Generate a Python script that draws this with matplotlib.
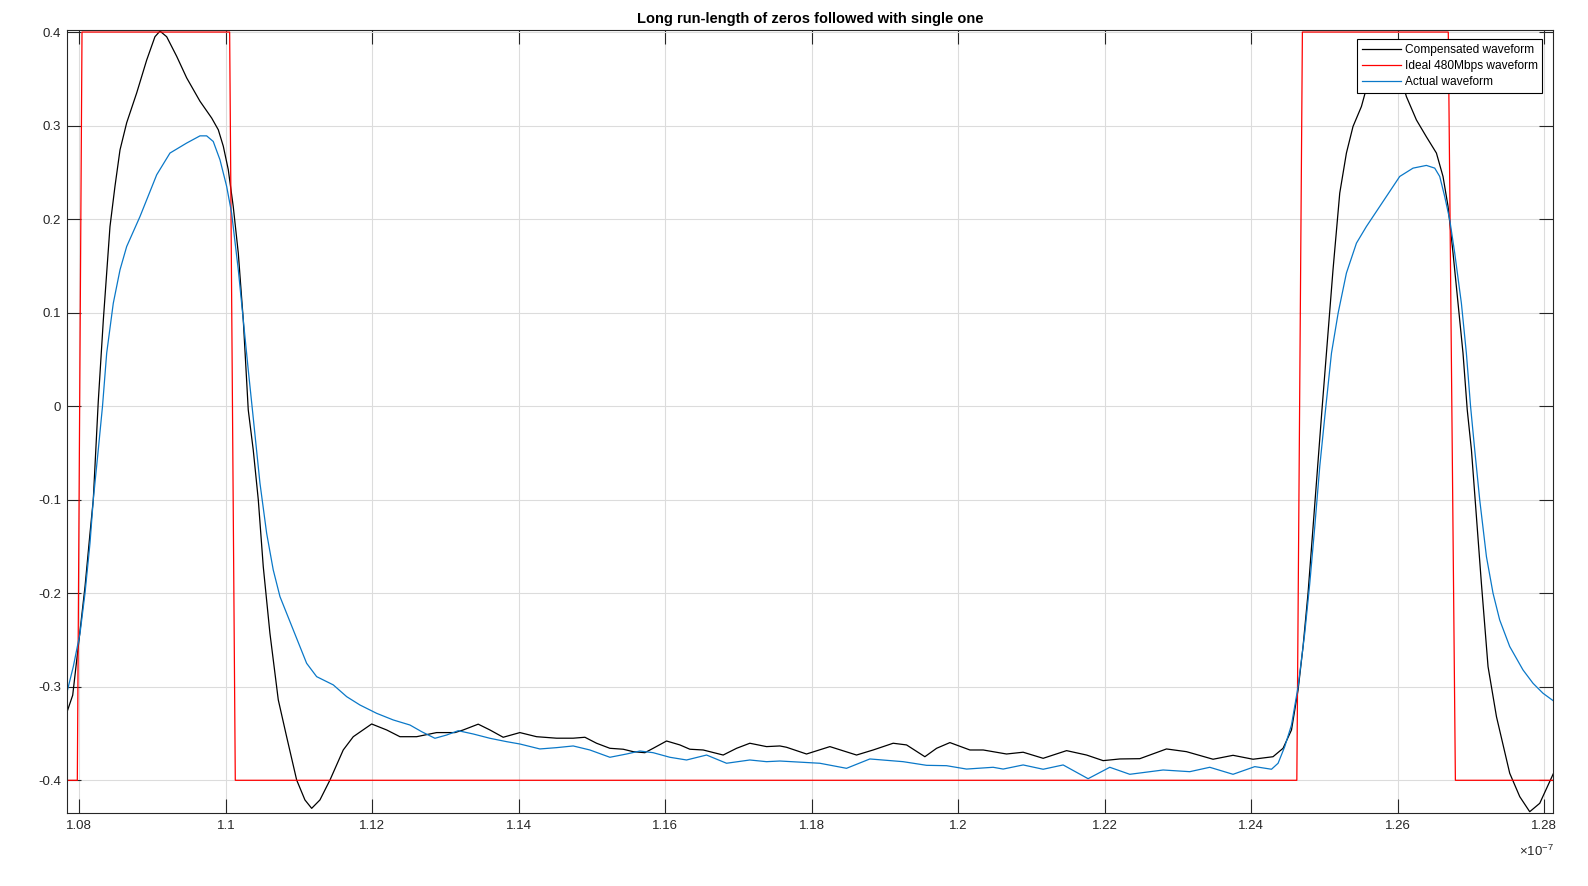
import matplotlib
matplotlib.use("Agg")
import matplotlib.pyplot as plt
from matplotlib.ticker import FixedLocator, FixedFormatter

plt.rcParams['font.family'] = ['Liberation Sans', 'DejaVu Sans']
plt.rcParams['mathtext.fontset'] = 'custom'
plt.rcParams['mathtext.rm'] = 'Liberation Sans'
plt.rcParams['mathtext.it'] = 'Liberation Sans'

SCALE = 1e-7  # time values below are in units of 1e-7 s

# ---------------- data ----------------
comp_t = [1.07828, 1.07910, 1.07986, 1.08078, 1.08146, 1.08191, 1.08259, 1.08328,
          1.08419, 1.08487, 1.08556, 1.08647, 1.08784, 1.08920, 1.09033, 1.09102,
          1.09193, 1.09330, 1.09466, 1.09648, 1.09808, 1.09898, 1.09966, 1.10034,
          1.10102, 1.10171, 1.10239, 1.10307, 1.10375, 1.10444, 1.10512, 1.10603,
          1.10717, 1.10831, 1.10968, 1.11081, 1.11173, 1.11286, 1.11423, 1.11604,
          1.11741, 1.11992, 1.12197, 1.12378, 1.12606, 1.12879, 1.13129, 1.13242,
          1.13447, 1.13607, 1.13788, 1.14016, 1.14244, 1.14517, 1.14744, 1.14904,
          1.15063, 1.15245, 1.15427, 1.15563, 1.15723, 1.15836, 1.16019, 1.16201,
          1.16337, 1.16519, 1.16792, 1.16975, 1.17156, 1.17384, 1.17566, 1.17657,
          1.17930, 1.18249, 1.18613, 1.18840, 1.19113, 1.19296, 1.19546, 1.19706,
          1.19888, 1.20161, 1.20343, 1.20661, 1.20888, 1.21161, 1.21481, 1.21754,
          1.21980, 1.22208, 1.22481, 1.22845, 1.23118, 1.23481, 1.23754, 1.24027,
          1.24300, 1.24437, 1.24552, 1.24642, 1.24710, 1.24778, 1.24847, 1.24915,
          1.24968, 1.25029, 1.25119, 1.25211, 1.25302, 1.25392, 1.25507, 1.25593,
          1.25702, 1.25825, 1.25934, 1.26030, 1.26121, 1.26258, 1.26394, 1.26531,
          1.26621, 1.26690, 1.26758, 1.26826, 1.26894, 1.26952, 1.27009, 1.27077,
          1.27145, 1.27236, 1.27351, 1.27532, 1.27669, 1.27805, 1.27942, 1.28127]
comp_v = [-0.328, -0.309, -0.257, -0.193, -0.136, -0.100, 0.005, 0.092,
          0.192, 0.235, 0.274, 0.303, 0.335, 0.370, 0.395, 0.401,
          0.395, 0.374, 0.351, 0.326, 0.308, 0.2955, 0.278, 0.253,
          0.2135, 0.1636, 0.0923, -0.004, -0.0467, -0.100, -0.1716, -0.2428,
          -0.314, -0.3534, -0.3997, -0.421, -0.430, -0.421, -0.3997, -0.3676,
          -0.3534, -0.3398, -0.3462, -0.3534, -0.3534, -0.349, -0.349, -0.3462,
          -0.340, -0.3462, -0.354, -0.349, -0.3534, -0.355, -0.355, -0.354,
          -0.3604, -0.3658, -0.3668, -0.3694, -0.3705, -0.3658, -0.358, -0.3622,
          -0.3668, -0.3676, -0.373, -0.3658, -0.3604, -0.364, -0.3633, -0.3647,
          -0.3719, -0.364, -0.373, -0.3676, -0.3604, -0.3622, -0.3748, -0.3658,
          -0.3597, -0.3676, -0.3676, -0.3719, -0.370, -0.3765, -0.3683, -0.373,
          -0.379, -0.3772, -0.3769, -0.3665, -0.3694, -0.3775, -0.3733, -0.3775,
          -0.3748, -0.3658, -0.3462, -0.3034, -0.257, -0.200, -0.1288, -0.0574,
          -0.004, 0.0567, 0.1458, 0.2278, 0.2706, 0.299, 0.3204, 0.345,
          0.368, 0.380, 0.376, 0.355, 0.331, 0.306, 0.288, 0.2706,
          0.2456, 0.2135, 0.1636, 0.110, 0.0567, -0.004, -0.0467, -0.118,
          -0.1893, -0.2785, -0.332, -0.3925, -0.4175, -0.4336, -0.4246, -0.393]

ideal_t = [1.07828, 1.07973, 1.08037, 1.10053, 1.10130, 1.24625, 1.24701, 1.26693, 1.26790, 1.28127]
ideal_v = [-0.4, -0.4, 0.4, 0.4, -0.4, -0.4, 0.4, 0.4, -0.4, -0.4]

act_t = [1.07828, 1.07918, 1.08010, 1.08078, 1.08146, 1.08191, 1.08259, 1.08317,
         1.08374, 1.08464, 1.08556, 1.08647, 1.08829, 1.09057, 1.09238, 1.09466,
         1.09648, 1.09739, 1.09829, 1.09921, 1.10012, 1.10080, 1.10171, 1.10239,
         1.10307, 1.10364, 1.10467, 1.10558, 1.10648, 1.10740, 1.10922, 1.11104,
         1.11241, 1.11468, 1.11651, 1.11832, 1.12060, 1.12287, 1.12515, 1.12674,
         1.12856, 1.13016, 1.13174, 1.13379, 1.13607, 1.13835, 1.14016, 1.14289,
         1.14517, 1.14744, 1.14972, 1.15245, 1.15473, 1.15655, 1.15836, 1.16064,
         1.16292, 1.16565, 1.16838, 1.17156, 1.17384, 1.17566, 1.18112, 1.18476,
         1.18795, 1.19249, 1.19569, 1.19842, 1.20115, 1.20478, 1.20615, 1.20888,
         1.21161, 1.21434, 1.21775, 1.22071, 1.22344, 1.22799, 1.23163, 1.23436,
         1.23754, 1.24051, 1.24279, 1.24369, 1.24460, 1.24552, 1.24642, 1.24733,
         1.24802, 1.24870, 1.24938, 1.25007, 1.25098, 1.25189, 1.25302, 1.25439,
         1.25575, 1.25757, 1.25893, 1.26030, 1.26212, 1.26394, 1.26508, 1.26576,
         1.26644, 1.26713, 1.26781, 1.26872, 1.26940, 1.26997, 1.27054, 1.27122,
         1.27214, 1.27304, 1.27395, 1.27532, 1.27713, 1.27850, 1.27987, 1.28127]
act_v = [-0.307, -0.2785, -0.2428, -0.200, -0.1465, -0.100, -0.0467, 0.000,
         0.0567, 0.110, 0.1458, 0.1707, 0.2028, 0.2474, 0.2706, 0.2813,
         0.289, 0.289, 0.283, 0.2634, 0.235, 0.2064, 0.1458, 0.0923,
         0.0388, -0.004, -0.0824, -0.1358, -0.175, -0.2036, -0.2393, -0.2749,
         -0.2892, -0.298, -0.3106, -0.3195, -0.3284, -0.3355, -0.3409, -0.348,
         -0.3551, -0.3516, -0.347, -0.3505, -0.3551, -0.3587, -0.3612, -0.3665,
         -0.3651, -0.3633, -0.3676, -0.3754, -0.3719, -0.3687, -0.3705, -0.3754,
         -0.3783, -0.373, -0.3818, -0.3783, -0.3801, -0.3794, -0.3818, -0.3872,
         -0.3772, -0.3801, -0.384, -0.3844, -0.388, -0.3861, -0.388, -0.3836,
         -0.3882, -0.3836, -0.3983, -0.3861, -0.3936, -0.389, -0.3908, -0.3861,
         -0.3936, -0.3854, -0.3882, -0.3818, -0.364, -0.3409, -0.300, -0.2428,
         -0.1893, -0.1288, -0.0646, -0.0111, 0.0567, 0.0995, 0.1423, 0.1743,
         0.1921, 0.2135, 0.2295, 0.2456, 0.2545, 0.2574, 0.2545, 0.2456,
         0.2242, 0.1993, 0.1636, 0.110, 0.0567, 0.000, -0.0467, -0.100,
         -0.1609, -0.200, -0.2286, -0.257, -0.282, -0.2963, -0.307, -0.315]

x_ticks = [1.08, 1.10, 1.12, 1.14, 1.16, 1.18, 1.20, 1.22, 1.24, 1.26, 1.28]
x_tick_labels = ['1.08', '1.1', '1.12', '1.14', '1.16', '1.18', '1.2', '1.22', '1.24', '1.26', '1.28']
y_ticks = [-0.4, -0.3, -0.2, -0.1, 0.0, 0.1, 0.2, 0.3, 0.4]
y_tick_labels = ['-0.4', '-0.3', '-0.2', '-0.1', '0', '0.1', '0.2', '0.3', '0.4']

title = 'Long run-length of zeros followed with single one'
labels = ['Compensated waveform', 'Ideal 480Mbps waveform', 'Actual waveform']

# ---------------- plot ----------------
W, H = 1588, 886
fig = plt.figure(figsize=(W / 100, H / 100), dpi=100)
ax = fig.add_axes([66.7 / W, 72.7 / H, 1486.6 / W, 783.6 / H])

axc = '#262626'
ax.plot([t * SCALE for t in comp_t], comp_v, color='black', lw=0.9, label=labels[0])
ax.plot([t * SCALE for t in ideal_t], ideal_v, color='#ff0000', lw=0.9, label=labels[1])
ax.plot([t * SCALE for t in act_t], act_v, color='#0a78c8', lw=0.9, label=labels[2])

ax.set_xlim(1.07828 * SCALE, 1.28127 * SCALE)
ax.set_ylim(-0.4353, 0.4025)

ax.xaxis.set_major_locator(FixedLocator([t * SCALE for t in x_ticks]))
ax.xaxis.set_major_formatter(FixedFormatter(x_tick_labels))
ax.yaxis.set_major_locator(FixedLocator(y_ticks))
ax.yaxis.set_major_formatter(FixedFormatter(y_tick_labels))

ax.grid(True, color='#dcdcdc', lw=0.8)
ax.set_axisbelow(True)
ax.tick_params(direction='in', length=10, width=0.8, colors=axc, labelsize=9.5,
               top=True, right=True, labelcolor=axc)
ax.tick_params(axis='y', pad=4)
ax.tick_params(axis='x', pad=5)
for s in ax.spines.values():
    s.set_color(axc)
    s.set_linewidth(0.8)

ax.set_title(title, fontsize=10.5, fontweight='bold', color='black', pad=5)

ax.text(1.0, -0.048, r'$\times10^{-7}$', transform=ax.transAxes, ha='right', va='center',
        fontsize=9.5, color=axc)

leg = ax.legend(loc='upper right', bbox_to_anchor=(0.9926, 0.9877), borderaxespad=0,
                fontsize=8.6, frameon=True, fancybox=False, framealpha=1,
                edgecolor='black', handlelength=3.3, handletextpad=0.3,
                labelspacing=0.35, borderpad=0.4)
leg.get_frame().set_linewidth(0.8)

fig.savefig('out.png', dpi=100)
